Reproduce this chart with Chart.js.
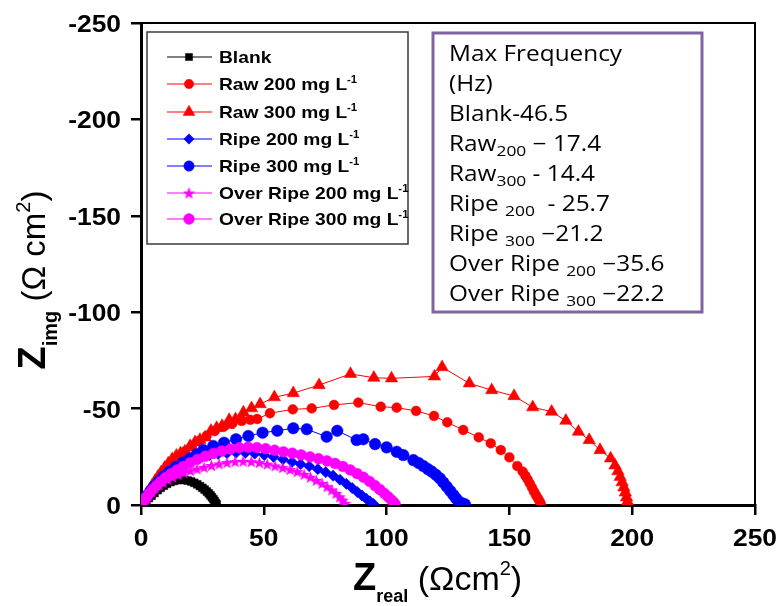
<!DOCTYPE html>
<html>
<head>
<meta charset="utf-8">
<script src="https://cdn.jsdelivr.net/npm/chart.js@4/dist/chart.umd.min.js"></script>
<style>
  html, body { margin: 0; padding: 0; background: #ffffff; }
  #wrap { width: 781px; height: 606px; position: relative; }
</style>
</head>
<body>
<div id="wrap"><canvas id="nyquist" width="781" height="606"></canvas></div>
<script>
// Nyquist data: [Z_real, Z_img] in ohm cm^2
const blankPts = [[0.3,-0.5],[1.2,-1.5],[2.2,-2.6],[3.2,-3.6],[4.3,-4.8],[5.5,-6.2],[6.8,-7.7],[8,-8.9],[9.3,-10],[10.6,-11],[12,-11.9],[13.4,-12.5],[14.8,-12.9],[16.2,-13.1],[17.6,-13],[19,-12.7],[20.4,-12.2],[21.7,-11.5],[22.9,-10.7],[24,-9.8],[25,-8.9],[25.9,-8],[26.8,-7],[27.6,-6],[28.3,-5],[28.9,-4],[29.5,-3],[30,-2],[30.4,-1.1],[30.8,-0.3]];
const raw200Pts = [[0.3,-0.8],[1.2,-2.5],[2.3,-4.5],[3.5,-6.8],[4.8,-9],[6.2,-11.5],[7.8,-14],[9.5,-16.8],[11.3,-19.5],[13.3,-22.3],[15.5,-25],[18,-27.8],[20.7,-30.5],[23.6,-33.2],[26.7,-35.8],[30,-38.3],[33.5,-40.5],[37.2,-42.3],[41,-43.6],[44.5,-44.2],[47.3,-44.6],[52.5,-47.6],[61.8,-49.6],[69.5,-50.1],[78.6,-51.9],[88.5,-53.1],[97.6,-51],[104.1,-50.5],[112,-48.8],[119.3,-46.2],[124.7,-42.9],[131.2,-38.9],[137.5,-35.1],[142.4,-32],[146.5,-28.5],[150,-24.7],[153.2,-20.2],[155.4,-17.3],[156.5,-15.2],[157.4,-13.3],[158.3,-11.2],[159.2,-9],[160,-7],[160.8,-5.2],[161.6,-3.5],[162.3,-1.9],[162.8,-0.5]];
const raw300Pts = [[0.3,-1],[1,-2.6],[1.8,-4.3],[2.7,-6.2],[3.6,-8.2],[4.6,-10.2],[5.7,-12.4],[6.9,-14.7],[8.2,-17],[9.6,-19.3],[11.1,-21.6],[12.7,-23.8],[14.4,-25.6],[16.1,-26.8],[17.9,-27.8],[20,-30.6],[22,-32.6],[24,-33.8],[26.1,-35],[28.5,-38.5],[30.8,-40],[33,-41],[35.5,-41.5],[35.9,-44.1],[38.5,-44.5],[41,-45],[41.7,-48],[45,-50.2],[48.5,-52.3],[54.3,-55.9],[62,-58],[72.5,-62.2],[85.3,-68],[94.8,-66],[102,-65.7],[119.5,-66.7],[122.6,-71.5],[133.7,-63.1],[142.8,-59.6],[151.9,-56.5],[159.5,-50.7],[167.2,-48.4],[173,-43.7],[178.1,-38],[182.5,-33.7],[186.9,-28.5],[191.2,-24.2],[193,-20.5],[194.2,-17.5],[195.1,-14.6],[195.9,-11.8],[196.6,-9.1],[197.2,-6.5],[197.7,-4],[198.1,-1.8],[198.4,-0.3]];
const ripe200Pts = [[0.3,-0.8],[1.2,-2.6],[2.3,-4.6],[3.5,-6.8],[4.8,-9],[6.3,-11.2],[8,-13.4],[9.8,-15.5],[11.8,-17.5],[14,-19.4],[16.4,-21.1],[19,-22.6],[21.8,-23.9],[24.8,-25],[28,-25.9],[31.4,-26.5],[35,-26.9],[38.7,-27.1],[42.5,-27],[46.3,-26.6],[50.2,-25.9],[54,-24.9],[57.8,-23.7],[61.5,-22.3],[65,-21.2],[68.5,-20.1],[72,-18.6],[75.2,-17],[78.2,-15.2],[81,-13.1],[83.6,-11],[86,-8.8],[88.1,-6.7],[90,-4.9],[91.7,-3.3],[93.2,-1.9],[94.6,-0.6]];
const ripe300Pts = [[0.3,-0.8],[1.3,-2.8],[2.5,-5],[3.9,-7.4],[5.5,-9.9],[7.3,-12.4],[9.3,-14.9],[11.6,-17.3],[14.1,-19.7],[17,-22],[20,-24.2],[22.7,-26.3],[25.4,-28.5],[29.4,-30.6],[33.8,-32.3],[38.7,-34.1],[43.7,-35.8],[49.5,-37.5],[55.5,-38.5],[62,-39.8],[67.5,-39.3],[75.6,-35.4],[79.9,-38.5],[87.8,-33.7],[90.5,-34.1],[95.3,-31.6],[100,-29.9],[104.1,-27.6],[106.8,-25.9],[110.9,-23.3],[113,-21.8],[115,-20.2],[116.8,-18.6],[118.4,-17.3],[120.1,-15.6],[121.7,-13.8],[123.1,-11.7],[124.5,-9.5],[125.9,-7.3],[127.2,-5.2],[128.3,-3.4],[129.4,-1.8],[130.7,-0.9],[131.9,-0.4]];
const overRipe200Pts = [[0.3,-0.6],[1.1,-2],[2.1,-3.6],[3.2,-5.3],[4.4,-7],[5.8,-8.7],[7.3,-10.3],[9,-11.8],[10.9,-13.2],[12.9,-14.5],[15.1,-15.7],[17.5,-16.8],[20.1,-17.8],[22.8,-18.7],[25.7,-19.6],[28.7,-20.5],[31.8,-21.3],[35,-22],[38.3,-22.5],[41.6,-22.7],[44.9,-22.5],[48.2,-22],[51.4,-21.2],[54.6,-20.3],[57.7,-19.4],[60.7,-18.4],[63.6,-17.3],[66.4,-15.9],[69,-14.4],[71.4,-12.8],[73.7,-11.2],[75.8,-9.5],[77.7,-7.8],[79.4,-6],[80.9,-4.2],[82.1,-2.5],[83.1,-0.9]];
const overRipe300Pts = [[0.2,-0.5],[1,-2],[2,-3.8],[3.2,-5.8],[4.6,-7.9],[6.2,-10],[8,-12.1],[10,-14.2],[12.2,-16.2],[14.6,-18.1],[17.2,-20],[20,-21.9],[23,-23.7],[26.2,-25.3],[29.5,-26.8],[32.9,-28],[36.4,-29],[40,-29.7],[43.6,-30],[47.2,-29.8],[50.8,-29.2],[54.4,-28.4],[58,-27.6],[61.6,-26.9],[65.2,-26],[68.8,-25],[72.3,-24],[75.7,-22.9],[79,-21.6],[82.2,-20],[85.2,-18.2],[88,-16.3],[90.6,-14.4],[93,-12.3],[95.2,-10.2],[97.2,-8.1],[99,-6.1],[100.6,-4.3],[101.9,-2.7],[102.9,-1.4],[103.5,-0.4]];

const xTickValues = [0, 50, 100, 150, 200, 250];
const yTickValues = [-250, -200, -150, -100, -50, 0];

const seriesNames = ['Blank', 'Raw 200 mg L', 'Raw 300 mg L', 'Ripe 200 mg L', 'Ripe 300 mg L', 'Over Ripe 200 mg L', 'Over Ripe 300 mg L'];
const seriesUnitSup = ['', '-1', '-1', '-1', '-1', '-1', '-1'];

const maxFreqTitle = ['Max Frequency', '(Hz)'];
const maxFreqRows = [
  ['Blank-46.5', '', ''],
  ['Raw', '200', ' \u2212 17.4'],
  ['Raw', '300', ' - 14.4'],
  ['Ripe ', '200', '  - 25.7'],
  ['Ripe ', '300', ' \u221221.2'],
  ['Over Ripe ', '200', ' \u221235.6'],
  ['Over Ripe ', '300', ' \u221222.2']
];

// filled five-point star used as a marker image
function makeStar(size, color) {
  const c = document.createElement('canvas');
  c.width = size; c.height = size;
  const g = c.getContext('2d');
  const cx = size / 2, cy = size / 2 + 0.6, ro = size / 2, ri = ro * 0.42;
  g.beginPath();
  for (let i = 0; i < 10; i++) {
    const r = i % 2 === 0 ? ro : ri;
    const a = -Math.PI / 2 + i * Math.PI / 5;
    const px = cx + r * Math.cos(a), py = cy + r * Math.sin(a);
    if (i === 0) g.moveTo(px, py); else g.lineTo(px, py);
  }
  g.closePath();
  g.fillStyle = color;
  g.fill();
  return c;
}
const starMarker = makeStar(13, '#ff00ff');

const styles = [
  { color: '#000000', pointStyle: 'rect', radius: 5.5 },
  { color: '#ff0000', pointStyle: 'circle', radius: 4.9 },
  { color: '#ff0000', pointStyle: 'triangle', radius: 7.2 },
  { color: '#0000ff', pointStyle: 'rectRot', radius: 5.6 },
  { color: '#0000ff', pointStyle: 'circle', radius: 5.8 },
  { color: '#ff00ff', pointStyle: starMarker, radius: 6.5 },
  { color: '#ff00ff', pointStyle: 'circle', radius: 5.4 }
];
const allSeries = [blankPts, raw200Pts, raw300Pts, ripe200Pts, ripe300Pts, overRipe200Pts, overRipe300Pts];

const datasets = allSeries.map((pts, i) => ({
  label: seriesNames[i],
  data: pts.map(p => ({ x: p[0], y: p[1] })),
  showLine: true,
  borderColor: styles[i].color,
  backgroundColor: styles[i].color,
  borderWidth: 1,
  pointStyle: styles[i].pointStyle,
  pointRadius: styles[i].radius,
  pointBorderWidth: 0.5,
  pointBorderColor: styles[i].color,
  pointBackgroundColor: styles[i].color,
  order: allSeries.length - i
}));

// text drawn with a horizontal stretch factor
function textWidth(ctx, s, font, sx) { ctx.font = font; return ctx.measureText(s).width * sx; }
function drawRuns(ctx, runs, x, y, sx, align) {
  let total = 0;
  runs.forEach(r => { total += textWidth(ctx, r.t, r.font, sx); });
  let cx = align === 'center' ? x - total / 2 : (align === 'right' ? x - total : x);
  runs.forEach(r => {
    ctx.save();
    ctx.font = r.font;
    ctx.textAlign = 'left';
    ctx.textBaseline = 'alphabetic';
    ctx.translate(cx, y + (r.dy || 0));
    ctx.scale(sx, 1);
    ctx.fillText(r.t, 0, 0);
    ctx.restore();
    cx += textWidth(ctx, r.t, r.font, sx);
  });
  return total;
}

function drawMarker(ctx, style, x, y, radius) {
  ctx.save();
  ctx.fillStyle = style.color;
  ctx.strokeStyle = style.color;
  ctx.lineWidth = 0.5;
  if (Chart.helpers && Chart.helpers.drawPoint) {
    Chart.helpers.drawPoint(ctx, { pointStyle: style.pointStyle, radius: radius, rotation: 0, borderWidth: 0.5 }, x, y);
  } else {
    ctx.beginPath(); ctx.arc(x, y, radius, 0, Math.PI * 2); ctx.fill();
  }
  ctx.restore();
}

const decorations = {
  id: 'decorations',
  afterDraw(chart) {
    const ctx = chart.ctx;
    const xs = chart.scales.x, ys = chart.scales.y;
    const area = chart.chartArea;
    ctx.save();

    // top and right frame
    ctx.strokeStyle = '#000';
    ctx.lineWidth = 2;
    ctx.beginPath();
    ctx.moveTo(area.left, area.top);
    ctx.lineTo(area.right, area.top);
    ctx.lineTo(area.right, area.bottom);
    ctx.stroke();

    // tick labels
    ctx.fillStyle = '#000';
    const tickFont = "bold 24px 'Liberation Sans', Arial, sans-serif";
    xTickValues.forEach(v => {
      drawRuns(ctx, [{ t: String(v), font: tickFont }], xs.getPixelForValue(v), 546, 1.1, 'center');
    });
    yTickValues.forEach(v => {
      drawRuns(ctx, [{ t: String(v), font: tickFont }], 121, ys.getPixelForValue(v) + 9, 1.1, 'right');
    });

    // x axis title
    drawRuns(ctx, [
      { t: 'Z', font: "bold 38px 'Liberation Sans', Arial, sans-serif" },
      { t: 'real', font: "bold 18px 'Liberation Sans', Arial, sans-serif", dy: 12 },
      { t: ' (\u03A9cm', font: "34px 'Liberation Sans', Arial, sans-serif" },
      { t: '2', font: "20px 'Liberation Sans', Arial, sans-serif", dy: -15 },
      { t: ')', font: "34px 'Liberation Sans', Arial, sans-serif" }
    ], 353, 590, 1.0, 'left');

    // y axis title (rotated)
    ctx.save();
    ctx.translate(45, 280);
    ctx.rotate(-Math.PI / 2);
    drawRuns(ctx, [
      { t: 'Z', font: "bold 38px 'Liberation Sans', Arial, sans-serif" },
      { t: 'img', font: "bold 20px 'Liberation Sans', Arial, sans-serif", dy: 12 },
      { t: ' (\u03A9 cm', font: "33px 'Liberation Sans', Arial, sans-serif" },
      { t: '2', font: "20px 'Liberation Sans', Arial, sans-serif", dy: -15 },
      { t: ')', font: "33px 'Liberation Sans', Arial, sans-serif" }
    ], 0, 0, 1.0, 'center');
    ctx.restore();

    // legend
    const lg = { l: 147, t: 32, r: 408, b: 244 };
    ctx.fillStyle = '#fff';
    ctx.fillRect(lg.l, lg.t, lg.r - lg.l, lg.b - lg.t);
    ctx.strokeStyle = '#3a3a3a';
    ctx.lineWidth = 1.5;
    ctx.strokeRect(lg.l, lg.t, lg.r - lg.l, lg.b - lg.t);
    const rowY = [57, 84, 112, 139, 166, 193, 219];
    const legendRadius = [5, 4.7, 6.8, 5.2, 5.2, 5.5, 5.4];
    const legFont = "bold 17px 'Liberation Sans', Arial, sans-serif";
    const supFont = "bold 10px 'Liberation Sans', Arial, sans-serif";
    seriesNames.forEach((name, i) => {
      const y = rowY[i];
      ctx.strokeStyle = styles[i].color;
      ctx.lineWidth = 1;
      ctx.beginPath();
      ctx.moveTo(167, y);
      ctx.lineTo(212, y);
      ctx.stroke();
      drawMarker(ctx, styles[i], 189, y, legendRadius[i]);
      ctx.fillStyle = '#000';
      const runs = [{ t: name, font: legFont }];
      if (seriesUnitSup[i]) runs.push({ t: seriesUnitSup[i], font: supFont, dy: -7 });
      drawRuns(ctx, runs, 219, y + 6, 1.13, 'left');
    });

    // max frequency box
    const bx = { l: 433, t: 33, r: 702, b: 312 };
    ctx.fillStyle = '#fff';
    ctx.fillRect(bx.l, bx.t, bx.r - bx.l, bx.b - bx.t);
    ctx.strokeStyle = '#8064a2';
    ctx.lineWidth = 3;
    ctx.strokeRect(bx.l, bx.t, bx.r - bx.l, bx.b - bx.t);
    ctx.fillStyle = '#000';
    const boxFont = "21px 'Open Sans', sans-serif";
    const boxSub = "15px 'Open Sans', sans-serif";
    let ly = 61;
    maxFreqTitle.forEach(t => { drawRuns(ctx, [{ t: t, font: boxFont }], 449, ly, 1.16, 'left'); ly += 30; });
    maxFreqRows.forEach(row => {
      const runs = [{ t: row[0], font: boxFont }];
      if (row[1]) runs.push({ t: row[1], font: boxSub, dy: 5 });
      if (row[2]) runs.push({ t: row[2], font: boxFont });
      drawRuns(ctx, runs, 449, ly, 1.16, 'left');
      ly += 30;
    });

    ctx.restore();
  }
};

const axisCommon = {
  type: 'linear',
  ticks: { display: false, stepSize: 50 },
  grid: { drawOnChartArea: false, drawTicks: true, tickLength: 10, color: '#000', lineWidth: 2.5 },
  border: { display: true, color: '#000', width: 3 }
};

new Chart(document.getElementById('nyquist'), {
  type: 'scatter',
  data: { datasets: datasets },
  options: {
    responsive: false,
    animation: false,
    devicePixelRatio: 1,
    layout: { padding: { left: 0, right: 26, top: 23, bottom: 0 } },
    plugins: { legend: { display: false }, tooltip: { enabled: false } },
    scales: {
      x: Object.assign({}, axisCommon, {
        min: 0, max: 250,
        afterFit(scale) { scale.height = 101; }
      }),
      y: Object.assign({}, axisCommon, {
        min: -250, max: 0, reverse: true,
        afterFit(scale) { scale.width = 141; }
      })
    }
  },
  plugins: [decorations]
});
</script>
</body>
</html>
